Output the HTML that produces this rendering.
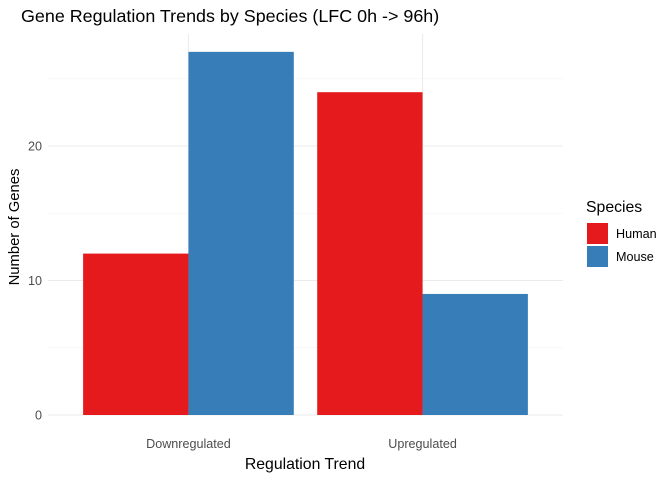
<!DOCTYPE html>
<html><head><meta charset="utf-8">
<style>
body{margin:0;background:#fff;font-family:"Liberation Sans",sans-serif;}
svg{display:block}
</style></head><body>
<svg id="c" width="672" height="480">
<rect width="672" height="480" fill="#fff"/>
<g id="grid"></g>
<g id="bars"></g>
<g id="axes"></g>
<text x="21" y="22" font-size="17.9" fill="#000">Gene Regulation Trends by Species (LFC 0h -&gt; 96h)</text>
<text x="305" y="469" font-size="15.8" text-anchor="middle" fill="#000">Regulation Trend</text>
<text transform="translate(19,227) rotate(-90)" font-size="14.8" text-anchor="middle" fill="#000">Number of Genes</text>
<g>
<text x="586" y="212" font-size="15.8" fill="#000">Species</text>
<rect x="587" y="223" width="21" height="21" fill="#E41A1C"/>
<text x="616" y="238" font-size="12.6" fill="#000">Human</text>
<rect x="587" y="246" width="21" height="21" fill="#377EB8"/>
<text x="616" y="261" font-size="12.6" fill="#000">Mouse</text>
</g>
</svg>
<script>
const categories=["Downregulated","Upregulated"];
const human=[12,24];
const mouse=[27,9];
const yTicks=[0,10,20];
const yMinor=[5,15,25];
const NS="http://www.w3.org/2000/svg";
const x0=48,x1=563,y0=415,ppu=13.45;
const xs=i=>x0+(i+1-0.4)*(x1-x0)/2.2;
const bw=(x1-x0)/2.2*0.45;
const ys=v=>y0-v*ppu;
function mk(t,a,p){const e=document.createElementNS(NS,t);for(const k in a)e.setAttribute(k,a[k]);p.appendChild(e);return e;}
const g=document.getElementById('grid'),b=document.getElementById('bars'),ax=document.getElementById('axes');
yMinor.forEach(v=>{const l=mk('line',{x1:x0,x2:x1,y1:ys(v),y2:ys(v),stroke:'#f2f2f2','stroke-width':0.6},g);

});
yTicks.forEach(v=>{const l=mk('line',{x1:x0,x2:x1,y1:ys(v),y2:ys(v),stroke:'#ebebeb','stroke-width':1.1},g);


const t=mk('text',{x:42,y:ys(v)+4.5,'font-size':12.6,fill:'#4d4d4d','text-anchor':'end'},ax);t.textContent=v;

});
categories.forEach((c,i)=>{const l=mk('line',{x1:xs(i),x2:xs(i),y1:34,y2:y0,stroke:'#ebebeb','stroke-width':1.1},g);


const t=mk('text',{x:xs(i),y:448,'font-size':12.6,fill:'#4d4d4d','text-anchor':'middle'},ax);t.textContent=c;


const r1=mk('rect',{x:xs(i)-bw,y:ys(human[i]),width:bw,height:y0-ys(human[i]),fill:'#E41A1C'},b);


const r2=mk('rect',{x:xs(i),y:ys(mouse[i]),width:bw,height:y0-ys(mouse[i]),fill:'#377EB8'},b);

});
</script>
</body></html>
